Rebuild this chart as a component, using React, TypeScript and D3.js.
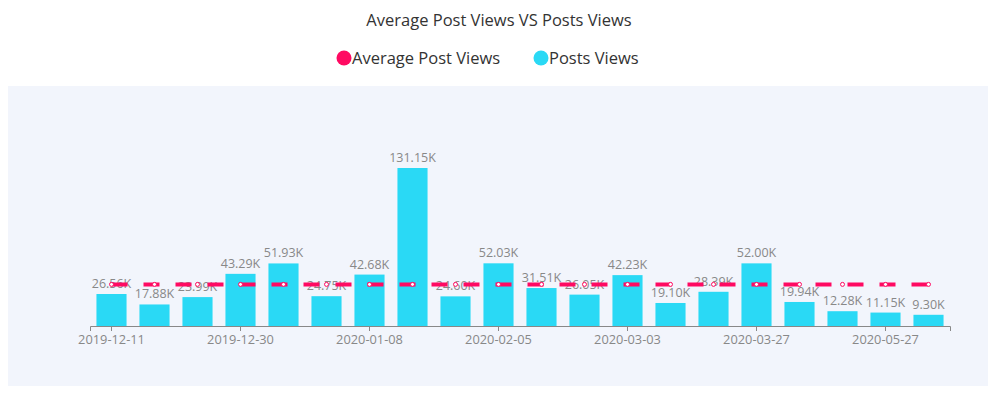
import { useEffect, useRef } from "react";
import * as d3 from "d3";

const categories: string[] = [
  "2019-12-11", "2019-12-17", "2019-12-23", "2019-12-30", "2020-01-02",
  "2020-01-05", "2020-01-08", "2020-01-17", "2020-01-26", "2020-02-05",
  "2020-02-14", "2020-02-23", "2020-03-03", "2020-03-11", "2020-03-19",
  "2020-03-27", "2020-04-15", "2020-05-06", "2020-05-27", "2020-06-10",
];
const postsViews: number[] = [
  26560, 17880, 23990, 43290, 51930, 24750, 42680, 131150, 24600, 52030,
  31510, 26050, 42230, 19100, 28390, 52000, 19940, 12280, 11150, 9300,
];
const averageViews: number[] = [
  34540, 34540, 34540, 34540, 34540, 34540, 34540, 34540, 34540, 34540,
  34540, 34540, 34540, 34540, 34540, 34540, 34540, 34540, 34540, 34540,
];
const tickEvery = 3;

const PINK = "#ff0a62";
const BLUE = "#2ad9f5";
const FONT = "'Open Sans', Lato, sans-serif";

export default function App() {
  const svgRef = useRef<SVGSVGElement | null>(null);

  useEffect(() => {
    const width = 980;
    const height = 386;
    const svg = d3.select(svgRef.current);
    svg.selectAll("*").remove();

    // plot background
    svg.append("rect")
      .attr("x", 0).attr("y", 78)
      .attr("width", width).attr("height", 300)
      .attr("fill", "#f2f5fc");

    // title
    svg.append("text")
      .attr("x", 491).attr("y", 18)
      .attr("text-anchor", "middle")
      .attr("font-family", FONT).attr("font-size", 16.5)
      .attr("fill", "#333")
      .text("Average Post Views VS Posts Views");

    // legend
    const legend = [
      { name: "Average Post Views", color: PINK, x: 336 },
      { name: "Posts Views", color: BLUE, x: 533 },
    ];
    const lg = svg.append("g");
    legend.forEach((l) => {
      lg.append("circle").attr("cx", l.x).attr("cy", 50).attr("r", 7.5).attr("fill", l.color);
      lg.append("text")
        .attr("x", l.x + 8).attr("y", 56)
        .attr("font-family", FONT).attr("font-size", 16.5)
        .attr("fill", "#333")
        .text(l.name);
    });

    const margin = { left: 82, right: 38 };
    const plotBottom = 318;

    const x = d3.scaleBand<string>()
      .domain(categories)
      .range([margin.left, width - margin.right])
      .paddingInner(0.3)
      .paddingOuter(0.15);

    const y = d3.scaleLinear()
      .domain([0, 131150])
      .range([plotBottom, 160]);

    // bars
    svg.append("g")
      .selectAll("rect")
      .data(postsViews)
      .join("rect")
      .attr("x", (_d, i) => x(categories[i])!)
      .attr("y", (d) => y(d))
      .attr("width", x.bandwidth())
      .attr("height", (d) => plotBottom - y(d))
      .attr("fill", BLUE);

    // bar labels
    svg.append("g")
      .selectAll("text")
      .data(postsViews)
      .join("text")
      .attr("x", (_d, i) => x(categories[i])! + x.bandwidth() / 2)
      .attr("y", (d) => y(d) - 6)
      .attr("text-anchor", "middle")
      .attr("font-family", FONT).attr("font-size", 12.5)
      .attr("fill", "#888")
      .text((d) => (d / 1000).toFixed(2) + "K");

    // x axis
    const axis = d3.axisBottom(x)
      .tickValues(categories.filter((_c, i) => i % tickEvery === 0))
      .tickSizeOuter(0)
      .tickSize(5)
      .tickPadding(4);
    const ax = svg.append("g")
      .attr("transform", `translate(0,${plotBottom})`)
      .call(axis);
    ax.select(".domain").attr("stroke", "#888");
    ax.selectAll(".tick line").attr("stroke", "#888");
    ax.selectAll(".tick text")
      .attr("font-family", FONT).attr("font-size", 12.8)
      .attr("fill", "#888");

    // average line
    const cx = (i: number) => x(categories[i])! + x.bandwidth() / 2;
    const line = d3.line<number>()
      .x((_d, i) => cx(i))
      .y((d) => y(d));
    svg.append("path")
      .datum(averageViews)
      .attr("d", line)
      .attr("fill", "none")
      .attr("stroke", PINK)
      .attr("stroke-width", 4)
      .attr("stroke-dasharray", "16 16");

    svg.append("g")
      .selectAll("circle")
      .data(averageViews)
      .join("circle")
      .attr("cx", (_d, i) => cx(i))
      .attr("cy", (d) => y(d))
      .attr("r", 2)
      .attr("fill", "#fff")
      .attr("stroke", PINK)
      .attr("stroke-width", 1);
  }, []);

  return (
    <div style={{ width: 980, height: 386 }}>
      <svg ref={svgRef} width={980} height={386} style={{ display: "block" }} />
    </div>
  );
}
